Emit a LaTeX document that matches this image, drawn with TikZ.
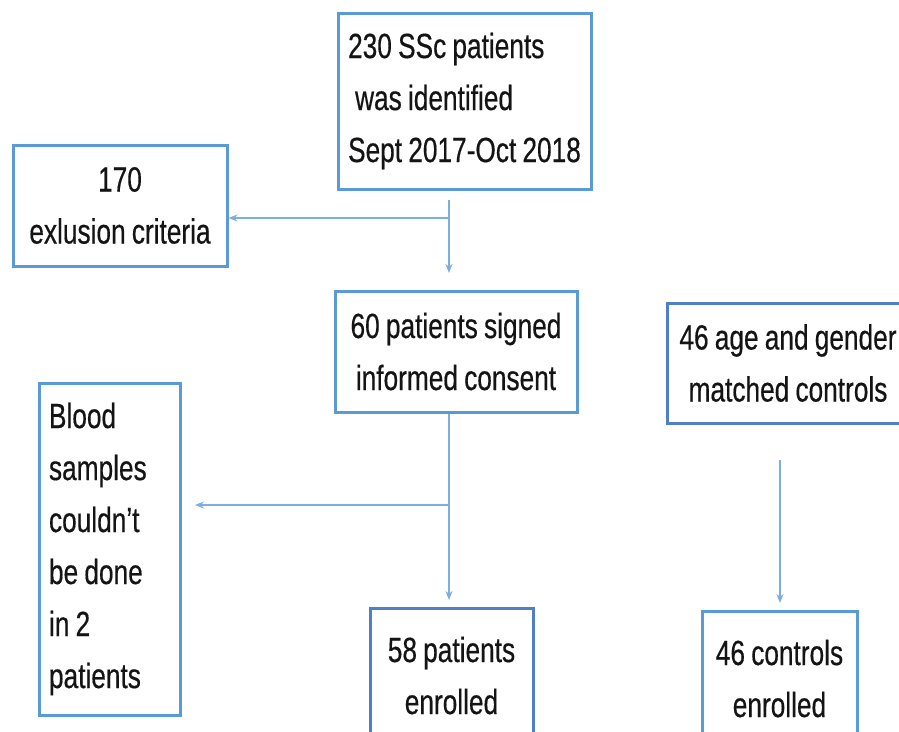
\documentclass[tikz,border=0pt]{standalone}
\usepackage{fontspec}
\setmainfont[FakeStretch=0.75,FakeBold=0.4,WordSpace=0.85]{Liberation Sans}
\usetikzlibrary{arrows.meta}
\definecolor{boxblue}{HTML}{5B9BD5}
\definecolor{boxdark}{HTML}{4F7FC4}
\definecolor{linkblue}{HTML}{7EAEE0}
\tikzset{
  flowbox/.style={draw=boxblue, line width=3pt, fill=white, align=center, inner sep=0pt,
    font=\fontsize{35}{52}\selectfont, text=black!92},
  darkbox/.style={flowbox, draw=boxdark},
  link/.style={draw=linkblue, line width=1.6pt, -{Stealth[length=9pt,width=7pt]}},
  plainlink/.style={draw=linkblue, line width=1.6pt}
}
\begin{document}
\begin{tikzpicture}[x=1pt,y=-1pt]
\useasboundingbox (0,0) rectangle (899,731);
\clip (0,0) rectangle (899,731);
\node[flowbox, minimum width=253, minimum height=176, align=left] (ident) at (464.5,101)
  {230 SSc patients\\\hspace*{7pt}was identified\\Sept 2017-Oct 2018};
\node[flowbox, minimum width=214, minimum height=121] (excl) at (120,205.5)
  {170\\exlusion criteria};
\node[flowbox, minimum width=242, minimum height=121] (consent) at (456,351.5)
  {60 patients signed\\informed consent};
\node[darkbox, minimum width=242, minimum height=120] (ctrl) at (788,363)
  {46 age and gender\\matched controls};
\node[flowbox, text width=121, inner xsep=10pt, minimum height=332, align=left] (blood) at (109.5,549)
  {\spaceskip=0pt\xspaceskip=0pt\relax Blood\\samples\\couldn’t\\be done\\in 2\\patients};
\node[darkbox, minimum width=163, minimum height=135] (enrol) at (451.5,675.5)
  {58 patients\\enrolled};
\node[flowbox, minimum width=155, minimum height=135] (cenrol) at (779.5,678.5)
  {46 controls\\enrolled};
% connectors
\coordinate (a1) at (449,200);
\coordinate (a2) at (449,218);
\coordinate (a3) at (449,273);
\coordinate (b1) at (449,505);
\coordinate (b2) at (449,600);
\coordinate (bl) at (195,505);
\coordinate (c1) at (780,460);
\coordinate (c2) at (780,603);
\draw[plainlink] (a1) -- (a2);
\draw[link] (a2) -- (a3);
\draw[link] (a2) -- (excl.east |- a2);
\draw[plainlink] (consent.south -| b1) -- (b1);
\draw[link] (b1) -- (b2);
\draw[link] (b1) -- (bl);
\draw[link] (c1) -- (c2);
\end{tikzpicture}
\end{document}
